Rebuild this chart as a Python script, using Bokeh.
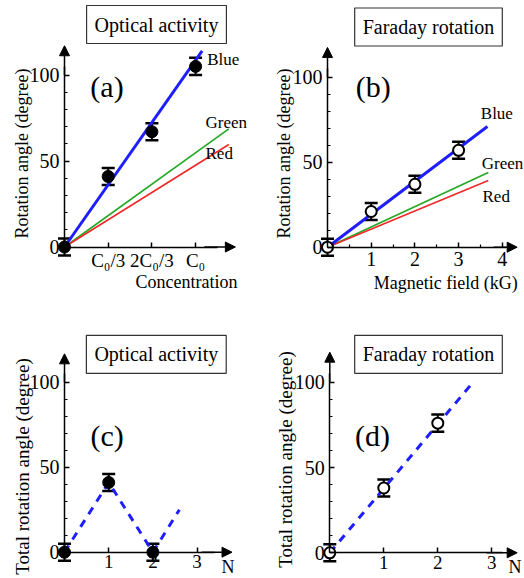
from bokeh.plotting import figure
from bokeh.layouts import gridplot
from bokeh.models import (ColumnDataSource, Whisker, TeeHead, Label, Arrow, NormalHead,
                          FixedTicker, SingleIntervalTicker)
from bokeh.embed import file_html
from bokeh.resources import INLINE

FONT = "Liberation Serif"
BLUE = "#1e1eff"
GREEN = "#22a822"
RED = "#f02828"

# ---------------- data ----------------
# (a) optical activity vs concentration
conc_ticks = [1, 2, 3]
conc_labels = ["C\u2080/3", "2C\u2080/3", "C\u2080"]
a_x = [0, 1, 2, 3]
a_y = [0, 41, 67, 105]
a_err = [5, 5, 5, 5]
a_blue_x = [0, 3.15]
a_blue_y = [0, 114]
a_green_x = [0, 3.76]
a_green_y = [0, 68.7]
a_red_x = [0, 3.76]
a_red_y = [0, 59.6]

# (b) Faraday rotation vs magnetic field
field_ticks = [1, 2, 3, 4]
field_minor = [0.5, 1.5, 2.5, 3.5]
b_x = [0, 1, 2, 3]
b_y = [0, 21, 37, 57]
b_err = [5, 5, 5, 5]
b_blue_x = [0, 3.66]
b_blue_y = [0, 71]
b_green_x = [0, 3.68]
b_green_y = [0, 44]
b_red_x = [0, 3.68]
b_red_y = [0, 39.2]

# (c) total optical activity vs N
n_ticks = [1, 2, 3]
c_x = [0, 1, 2]
c_y = [0, 41, 0]
c_err = [5, 5, 5]
c_line_x = [0, 1, 2, 2.6]
c_line_y = [0, 41, 0, 25]

# (d) total Faraday rotation vs N
d_x = [0, 1, 2]
d_y = [0, 38, 76]
d_err = [5, 5, 5]
d_line_x = [0, 2.6]
d_line_y = [0, 98]

y_ticks_interval = 50

W = 262
H_TOP, H_BOT = 300, 278


def make_panel(H, x0, sx, y0, sy, xticks, xminor, xlabels, xbound, xarrow, yarrow,
               xfont="20px", xstandoff=5):
    p = figure(width=W, height=H, title=None,
               x_range=(-x0 / sx, (W - x0) / sx),
               y_range=(-(H - y0) / sy, y0 / sy),
               output_backend="svg", toolbar_location=None, min_border=0,
               outline_line_color=None, background_fill_color="white",
               border_fill_color="white")
    p.xgrid.visible = False
    p.ygrid.visible = False
    xa = p.xaxis[0]
    ya = p.yaxis[0]
    xa.fixed_location = 0
    ya.fixed_location = 0
    xa.ticker = FixedTicker(ticks=xticks, minor_ticks=xminor)
    ya.ticker = SingleIntervalTicker(interval=y_ticks_interval, num_minor_ticks=5)
    xa.bounds = (0, xbound)
    ya.bounds = (0, 105)
    if xlabels:
        xa.major_label_overrides = {t: l for t, l in zip(xticks, xlabels)}
    for ax in (xa, ya):
        ax.axis_line_width = 1.5
        ax.axis_line_color = "black"
        ax.major_tick_in = 5
        ax.major_tick_out = 0
        ax.minor_tick_in = 3
        ax.minor_tick_out = 0
        ax.major_tick_line_width = 1.5
        ax.minor_tick_line_width = 1.2
        ax.major_tick_line_color = "black"
        ax.minor_tick_line_color = "black"
        ax.major_label_text_font = FONT
        ax.major_label_text_font_size = "20px"
        ax.major_label_text_color = "black"
        ax.major_label_standoff = 5
    xa.major_label_text_font_size = xfont
    xa.major_label_standoff = xstandoff
    head = dict(size=10, fill_color="black", line_color="black", line_width=1)
    p.add_layout(Arrow(end=NormalHead(**head), x_start=0, y_start=100, x_end=0,
                       y_end=yarrow, line_width=1.5, line_color="black"))
    p.add_layout(Arrow(end=NormalHead(**head), x_start=xbound - 0.3, y_start=0,
                       x_end=xarrow, y_end=0, line_width=1.5, line_color="black"))

    def px(v):
        return (v - x0) / sx

    def py(v):
        return (y0 - v) / sy

    return p, px, py


def add_text(p, x, y, text, size, align="left", baseline="middle", angle=0, **kw):
    p.add_layout(Label(x=x, y=y, text=text, text_font=FONT, text_font_size=size,
                       text_align=align, text_baseline=baseline, angle=angle,
                       angle_units="deg", text_color="black", **kw))


def add_box_title(p, x, y, text):
    add_text(p, x, y, text, "20px", align="center", baseline="middle",
             border_line_color="#333333", border_line_width=1.2,
             background_fill_color="white", padding=8)


def add_points(p, xs, ys, errs, filled):
    src = ColumnDataSource(dict(x=xs, y=ys,
                                lo=[v - e for v, e in zip(ys, errs)],
                                hi=[v + e for v, e in zip(ys, errs)]))
    tee = dict(size=13, line_width=2.5, line_color="black")
    p.add_layout(Whisker(source=src, base="x", upper="hi", lower="lo",
                         dimension="height", line_width=2, line_color="black",
                         upper_head=TeeHead(**tee), lower_head=TeeHead(**tee)))
    if filled:
        p.scatter("x", "y", source=src, size=12, fill_color="black", line_color="black")
    else:
        p.scatter("x", "y", source=src, size=11, fill_color="white",
                  line_color="black", line_width=2)


# ---------------- panel (a) ----------------
pa, ax_, ay_ = make_panel(H_TOP, 64, 43.7, 246.5, 1.72, conc_ticks, [], conc_labels,
                          3.5, 3.91, 117, xfont="19px", xstandoff=3)
pa.line(a_green_x, a_green_y, line_color=GREEN, line_width=1.6)
pa.line(a_red_x, a_red_y, line_color=RED, line_width=1.6)
pa.line(a_blue_x, a_blue_y, line_color=BLUE, line_width=3)
add_points(pa, a_x, a_y, a_err, True)
add_text(pa, ax_(206.7), ay_(59), "Blue", "17px")
add_text(pa, ax_(205), ay_(121.5), "Green", "17px")
add_text(pa, ax_(205), ay_(152.5), "Red", "17px")
add_text(pa, ax_(106.5), ay_(85.5), "(a)", "30px", align="center")
add_text(pa, ax_(21), ay_(153), "Rotation angle (degree)", "18px", align="center", angle=90)
add_text(pa, ax_(186), ay_(281), "Concentration", "18px", align="center")
add_box_title(pa, ax_(156), ay_(24), "Optical activity")

# ---------------- panel (b) ----------------
pb, bx_, by_ = make_panel(H_TOP, 65, 43.7, 246.7, 1.70, field_ticks, field_minor, None,
                          4.1, 4.34, 117.5)
pb.line(b_green_x, b_green_y, line_color=GREEN, line_width=1.6)
pb.line(b_red_x, b_red_y, line_color=RED, line_width=1.6)
pb.line(b_blue_x, b_blue_y, line_color=BLUE, line_width=3)
add_points(pb, b_x, b_y, b_err, False)
add_text(pb, bx_(218.3), by_(112.5), "Blue", "17px")
add_text(pb, bx_(219.3), by_(162.5), "Green", "17px")
add_text(pb, bx_(220), by_(196), "Red", "17px")
add_text(pb, bx_(110.8), by_(86), "(b)", "30px", align="center")
add_text(pb, bx_(21), by_(153), "Rotation angle (degree)", "18px", align="center", angle=90)
add_text(pb, bx_(183.3), by_(282), "Magnetic field (kG)", "18px", align="center")
add_box_title(pb, bx_(166), by_(26.5), "Faraday rotation")

# ---------------- panel (c) ----------------
pc, cx_, cy_ = make_panel(H_BOT, 64, 44.2, 251.7, 1.70, n_ticks, [], None, 3.4, 3.79, 116.7,
                          xfont="19px", xstandoff=3)
pc.line(c_line_x, c_line_y, line_color=BLUE, line_width=3, line_dash="8 7")
add_points(pc, c_x, c_y, c_err, True)
add_text(pc, cx_(106.7), cy_(134.5), "(c)", "30px", align="center")
add_text(pc, cx_(21.5), cy_(166), "Total rotation angle (degree)", "19px", align="center",
         angle=90)
add_text(pc, cx_(227.5), cy_(266), "N", "18px", align="center")
add_box_title(pc, cx_(155.8), cy_(53.8), "Optical activity")

# ---------------- panel (d) ----------------
pd_, dx_, dy_ = make_panel(H_BOT, 67.3, 54, 252.3, 1.706, n_ticks, [], None, 3.2, 3.47, 117.6,
                           xfont="19px", xstandoff=3)
pd_.line(d_line_x, d_line_y, line_color=BLUE, line_width=3, line_dash="8 7")
add_points(pd_, d_x, d_y, d_err, False)
add_text(pd_, dx_(110), dy_(134.5), "(d)", "30px", align="center")
add_text(pd_, dx_(23), dy_(159), "Total rotation angle (degree)", "19px", align="center",
         angle=90)
add_text(pd_, dx_(252.5), dy_(266), "N", "18px", align="center")
add_box_title(pd_, dx_(166), dy_(53.8), "Faraday rotation")

grid = gridplot([[pa, pb], [pc, pd_]], toolbar_location=None)

open("out.html", "w").write(file_html(grid, INLINE))
